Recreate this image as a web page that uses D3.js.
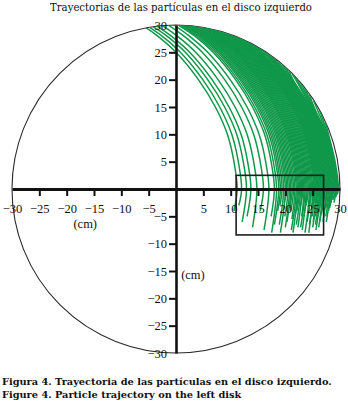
<!DOCTYPE html>
<html>
<head>
<meta charset="utf-8">
<script src="https://cdn.jsdelivr.net/npm/d3@7"></script>
<style>
  body { margin: 0; background: #fff; }
  svg text { font-family: "Liberation Serif", "DejaVu Serif", serif; fill: #111; }
  svg text.wide { font-family: "DejaVu Serif", serif; }
</style>
</head>
<body>
<div id="chart"></div>
<script>
// axis ticks (cm)
var xTicks = [-30, -25, -20, -15, -10, -5, 5, 10, 15, 20, 25, 30];
var yTicks = [-30, -25, -20, -15, -10, -5, 5, 10, 15, 20, 25, 30];

// window drawn over the lower part of the trajectories
var boxX = [11, 27];
var boxY = [-8.4, 2.5];

// trajectories: start on the rim, x at fixed heights, end point
var levelY = [28, 25, 20, 15, 10, 5, 0];
var trajStart = [
  [-5.5, 29.5], [-4.9, 29.6], [-4.2, 29.7], [-3.5, 29.8], [-2.5, 29.9], [-1.4, 29.97],
  [-0.4, 30], [0.4, 30], [1.2, 30], [1.8, 29.95], [2.4, 29.9], [3.0, 29.85],
  [3.85, 29.75], [4.55, 29.65], [5.2, 29.55], [5.75, 29.45], [6.45, 29.3], [7.1, 29.15],
  [7.7, 29.0], [8.4, 28.8], [9.05, 28.6], [9.8, 28.35], [10.65, 28.05], [11.3, 27.8],
  [12.0, 27.5], [12.7, 27.2], [13.5, 26.8], [14.3, 26.35], [15.2, 25.85], [16.0, 25.35],
  [17.1, 24.6], [18.05, 23.9], [19.4, 22.85], [20.65, 21.7], [22.0, 20.3], [23.55, 18.5],
  [25.2, 16.1], [27.35, 12.2],
  [0.8, 30], [1.5, 30], [2.1, 29.93], [2.7, 29.88], [3.4, 29.8], [4.2, 29.7],
  [4.9, 29.6], [5.5, 29.5], [6.1, 29.38], [6.8, 29.22], [7.4, 29.08], [8.05, 28.9],
  [8.7, 28.7], [9.4, 28.48], [10.2, 28.2], [11.0, 27.92], [11.65, 27.65], [12.35, 27.35],
  [13.1, 27.0], [13.9, 26.6], [14.75, 26.1], [15.6, 25.6], [16.55, 25.0], [17.6, 24.25],
  [18.7, 23.4], [20.0, 22.3], [21.3, 21.0], [22.8, 19.4], [24.4, 17.3], [26.3, 14.3]
];
var trajX = [
  [-3.4, 0, 4.1, 7.2, 9.4, 10.6, 11.2],
  [-2.6, 0.8, 4.9, 8.0, 10.2, 11.4, 12.0],
  [-1.7, 1.7, 5.8, 8.9, 11.1, 12.3, 12.9],
  [-0.9, 2.5, 6.6, 9.7, 11.9, 13.1, 13.7],
  [0.2, 3.6, 7.7, 10.8, 13.0, 14.2, 14.8],
  [1.4, 4.8, 8.9, 12.0, 14.2, 15.4, 16.0],
  [2.4, 5.8, 9.9, 13.0, 15.2, 16.4, 17.0],
  [3.4, 6.8, 10.9, 14.0, 16.2, 17.4, 18.0],
  [4.2, 7.6, 11.7, 14.8, 17.0, 18.2, 18.8],
  [4.8, 8.2, 12.3, 15.4, 17.6, 18.8, 19.4],
  [5.4, 8.8, 12.9, 16.0, 18.2, 19.4, 20.0],
  [5.9, 9.3, 13.4, 16.5, 18.7, 19.9, 20.5],
  [6.4, 9.8, 13.9, 17.0, 19.2, 20.4, 21.0],
  [6.9, 10.3, 14.4, 17.5, 19.7, 20.9, 21.5],
  [7.4, 10.8, 14.9, 18.0, 20.2, 21.4, 22.0],
  [7.8, 11.2, 15.3, 18.4, 20.6, 21.8, 22.4],
  [8.2, 11.6, 15.7, 18.8, 21.0, 22.2, 22.8],
  [8.6, 12.0, 16.1, 19.2, 21.4, 22.6, 23.2],
  [9.0, 12.4, 16.5, 19.6, 21.8, 23.0, 23.6],
  [9.4, 12.8, 16.9, 20.0, 22.2, 23.4, 24.0],
  [9.8, 13.2, 17.3, 20.4, 22.6, 23.8, 24.4],
  [10.2, 13.6, 17.7, 20.8, 23.0, 24.2, 24.8],
  [null, 14.0, 18.1, 21.2, 23.4, 24.6, 25.2],
  [null, 14.3, 18.4, 21.5, 23.7, 24.9, 25.5],
  [null, 14.6, 18.7, 21.8, 24.0, 25.2, 25.8],
  [null, 14.9, 19.0, 22.1, 24.3, 25.5, 26.1],
  [null, 15.2, 19.3, 22.4, 24.6, 25.8, 26.4],
  [null, 15.5, 19.6, 22.7, 24.9, 26.1, 26.7],
  [null, 15.8, 19.9, 23.0, 25.2, 26.4, 27.0],
  [null, null, 20.2, 23.3, 25.5, 26.7, 27.3],
  [null, null, 20.5, 23.6, 25.8, 27.0, 27.6],
  [null, null, 20.8, 23.9, 26.1, 27.3, 27.9],
  [null, null, 21.1, 24.2, 26.4, 27.6, 28.2],
  [null, null, 21.4, 24.5, 26.7, 27.9, 28.5],
  [null, null, null, 24.8, 27.0, 28.2, 28.8],
  [null, null, null, 25.1, 27.3, 28.5, 29.1],
  [null, null, null, null, 27.6, 28.8, 29.4],
  [null, null, null, null, 27.9, 29.1, 29.7],
  [3.8, 7.2, 11.3, 14.4, 16.6, 17.8, 18.4],
  [4.5, 7.9, 12.0, 15.1, 17.3, 18.5, 19.1],
  [5.1, 8.5, 12.6, 15.7, 17.9, 19.1, 19.7],
  [5.65, 9.05, 13.15, 16.25, 18.45, 19.65, 20.25],
  [6.15, 9.55, 13.65, 16.75, 18.95, 20.15, 20.75],
  [6.65, 10.05, 14.15, 17.25, 19.45, 20.65, 21.25],
  [7.15, 10.55, 14.65, 17.75, 19.95, 21.15, 21.75],
  [7.6, 11.0, 15.1, 18.2, 20.4, 21.6, 22.2],
  [8.0, 11.4, 15.5, 18.6, 20.8, 22.0, 22.6],
  [8.4, 11.8, 15.9, 19.0, 21.2, 22.4, 23.0],
  [8.8, 12.2, 16.3, 19.4, 21.6, 22.8, 23.4],
  [9.2, 12.6, 16.7, 19.8, 22.0, 23.2, 23.8],
  [9.6, 13.0, 17.1, 20.2, 22.4, 23.6, 24.2],
  [10.0, 13.4, 17.5, 20.6, 22.8, 24.0, 24.6],
  [null, 13.8, 17.9, 21.0, 23.2, 24.4, 25.0],
  [null, 14.15, 18.25, 21.35, 23.55, 24.75, 25.35],
  [null, 14.45, 18.55, 21.65, 23.85, 25.05, 25.65],
  [null, 14.75, 18.85, 21.95, 24.15, 25.35, 25.95],
  [null, 15.05, 19.15, 22.25, 24.45, 25.65, 26.25],
  [null, 15.35, 19.45, 22.55, 24.75, 25.95, 26.55],
  [null, 15.65, 19.75, 22.85, 25.05, 26.25, 26.85],
  [null, null, 20.05, 23.15, 25.35, 26.55, 27.15],
  [null, null, 20.35, 23.45, 25.65, 26.85, 27.45],
  [null, null, 20.65, 23.75, 25.95, 27.15, 27.75],
  [null, null, 20.95, 24.05, 26.25, 27.45, 28.05],
  [null, null, 21.25, 24.35, 26.55, 27.75, 28.35],
  [null, null, null, 24.65, 26.85, 28.05, 28.65],
  [null, null, null, 24.95, 27.15, 28.35, 28.95],
  [null, null, null, 25.25, 27.45, 28.65, 29.25],
  [null, null, null, null, 27.75, 28.95, 29.55]
];
var trajEnd = [
  [10.6, -4], [11.5, -3], [12.1, -6], [13.0, -5], [14.0, -7], [15.4, -4],
  [16.1, -7.5], [17.4, -5], [18.0, -6.5], [19.0, -3], [19.1, -8], [19.9, -5],
  [20.3, -6], [21.0, -4], [21.1, -7.5], [21.8, -5], [22.0, -6.5], [22.8, -3],
  [22.8, -7], [23.4, -5], [23.6, -8], [24.2, -4.5], [24.4, -6.5], [25.0, -3.5],
  [25.0, -7], [25.5, -5], [25.6, -7.5], [26.2, -4], [26.3, -6], [26.8, -3],
  [27.0, -5], [27.4, -3.5], [27.5, -6], [28.0, -3], [28.3, -2.5], [28.7, -2],
  [29.0, -1.5], [29.5, -1],
  [17.5, -8], [18.6, -4], [18.9, -6.5], [19.8, -2.5], [20.0, -7], [20.8, -3.5],
  [21.2, -5.5], [21.4, -8], [22.1, -4], [22.3, -7], [23.0, -5], [23.1, -7.5],
  [23.8, -3], [24.0, -6], [24.3, -8], [24.9, -5], [25.1, -6], [25.6, -2.5],
  [25.5, -6.5], [26.0, -5], [26.1, -7], [26.6, -4.5], [26.9, -6], [27.3, -2.5],
  [27.4, -5], [27.9, -4], [28.1, -3.5], [28.5, -1.5], [28.9, -2.5], [29.2, -1.5]
];

var width = 348, height = 405;
var svg = d3.select("#chart").append("svg")
  .attr("width", width)
  .attr("height", height);

var x = d3.scaleLinear().domain([-30, 30]).range([12, 340]);
var y = d3.scaleLinear().domain([-30, 30]).range([353, 25]);
var R = x(30) - x(0);
var fmt = function (d) { return d < 0 ? "\u2212" + (-d) : String(d); };

// fit a text to the width it has in the figure
function fitText(sel, target) {
  var w = sel.node().getComputedTextLength();
  var fs = parseFloat(sel.style("font-size"));
  sel.style("font-size", (fs * target / w).toFixed(2) + "px");
}

var title = svg.append("text")
  .attr("class", "wide")
  .attr("x", 181).attr("y", 11)
  .attr("text-anchor", "middle")
  .style("font-size", "11px")
  .text("Trayectorias de las partículas en el disco izquierdo");
fitText(title, 262);

svg.append("defs").append("clipPath").attr("id", "disk")
  .append("circle")
  .attr("cx", x(0)).attr("cy", y(0)).attr("r", R);

svg.append("circle")
  .attr("cx", x(0)).attr("cy", y(0)).attr("r", R)
  .attr("fill", "none")
  .attr("stroke", "#2a2a2a")
  .attr("stroke-width", 1.1);

// build point lists from the tables
var trajectories = trajStart.map(function (s, i) {
  var pts = [s];
  trajX[i].forEach(function (v, j) {
    if (v !== null) pts.push([v, levelY[j]]);
  });
  pts.push(trajEnd[i]);
  return pts;
});

var line = d3.line()
  .x(function (d) { return x(d[0]); })
  .y(function (d) { return y(d[1]); })
  .curve(d3.curveCatmullRom.alpha(0.5));

svg.append("g")
  .attr("clip-path", "url(#disk)")
  .selectAll("path")
  .data(trajectories)
  .enter()
  .append("path")
  .attr("d", line)
  .attr("fill", "none")
  .attr("stroke", "#10984a")
  .attr("stroke-width", 1.5);

svg.append("rect")
  .attr("x", x(boxX[0]))
  .attr("y", y(boxY[1]))
  .attr("width", x(boxX[1]) - x(boxX[0]))
  .attr("height", y(boxY[0]) - y(boxY[1]))
  .attr("fill", "none")
  .attr("stroke", "#1e1e1e")
  .attr("stroke-width", 1.6);

// horizontal axis
var gx = svg.append("g")
  .attr("transform", "translate(0," + y(0) + ")")
  .call(d3.axisBottom(x).tickValues(xTicks).tickSize(7).tickSizeOuter(0).tickPadding(8).tickFormat(fmt));
gx.select(".domain").attr("stroke", "#111").attr("stroke-width", 3);
gx.selectAll(".tick line").attr("stroke", "#111").attr("stroke-width", 2)
  .attr("display", function (d) { return Math.abs(d) === 30 ? "none" : null; });
gx.selectAll(".tick text").style("font-size", "12.5px");

// vertical axis
var gy = svg.append("g")
  .attr("transform", "translate(" + x(0) + ",0)")
  .call(d3.axisLeft(y).tickValues(yTicks).tickSize(7).tickSizeOuter(0).tickPadding(2).tickFormat(fmt));
gy.select(".domain").attr("stroke", "#111").attr("stroke-width", 2.6);
gy.selectAll(".tick line").attr("stroke", "#111").attr("stroke-width", 2)
  .attr("display", function (d) { return Math.abs(d) === 30 ? "none" : null; });
gy.selectAll(".tick text").style("font-size", "12.5px");

svg.append("text")
  .attr("x", x(-16.6)).attr("y", y(-7.2))
  .attr("text-anchor", "middle")
  .style("font-size", "12.5px")
  .text("(cm)");
svg.append("text")
  .attr("x", x(3.1)).attr("y", y(-16.5))
  .attr("text-anchor", "middle")
  .style("font-size", "12.5px")
  .text("(cm)");

var cap1 = svg.append("text")
  .attr("class", "wide")
  .attr("x", 2).attr("y", 385)
  .style("font-size", "11px").style("font-weight", "bold")
  .text("Figura 4. Trayectoria de las partículas en el disco izquierdo.");
fitText(cap1, 330);
svg.append("text")
  .attr("class", "wide")
  .attr("x", 2).attr("y", 398)
  .style("font-size", cap1.style("font-size")).style("font-weight", "bold")
  .text("Figure 4. Particle trajectory on the left disk");
</script>
</body>
</html>
